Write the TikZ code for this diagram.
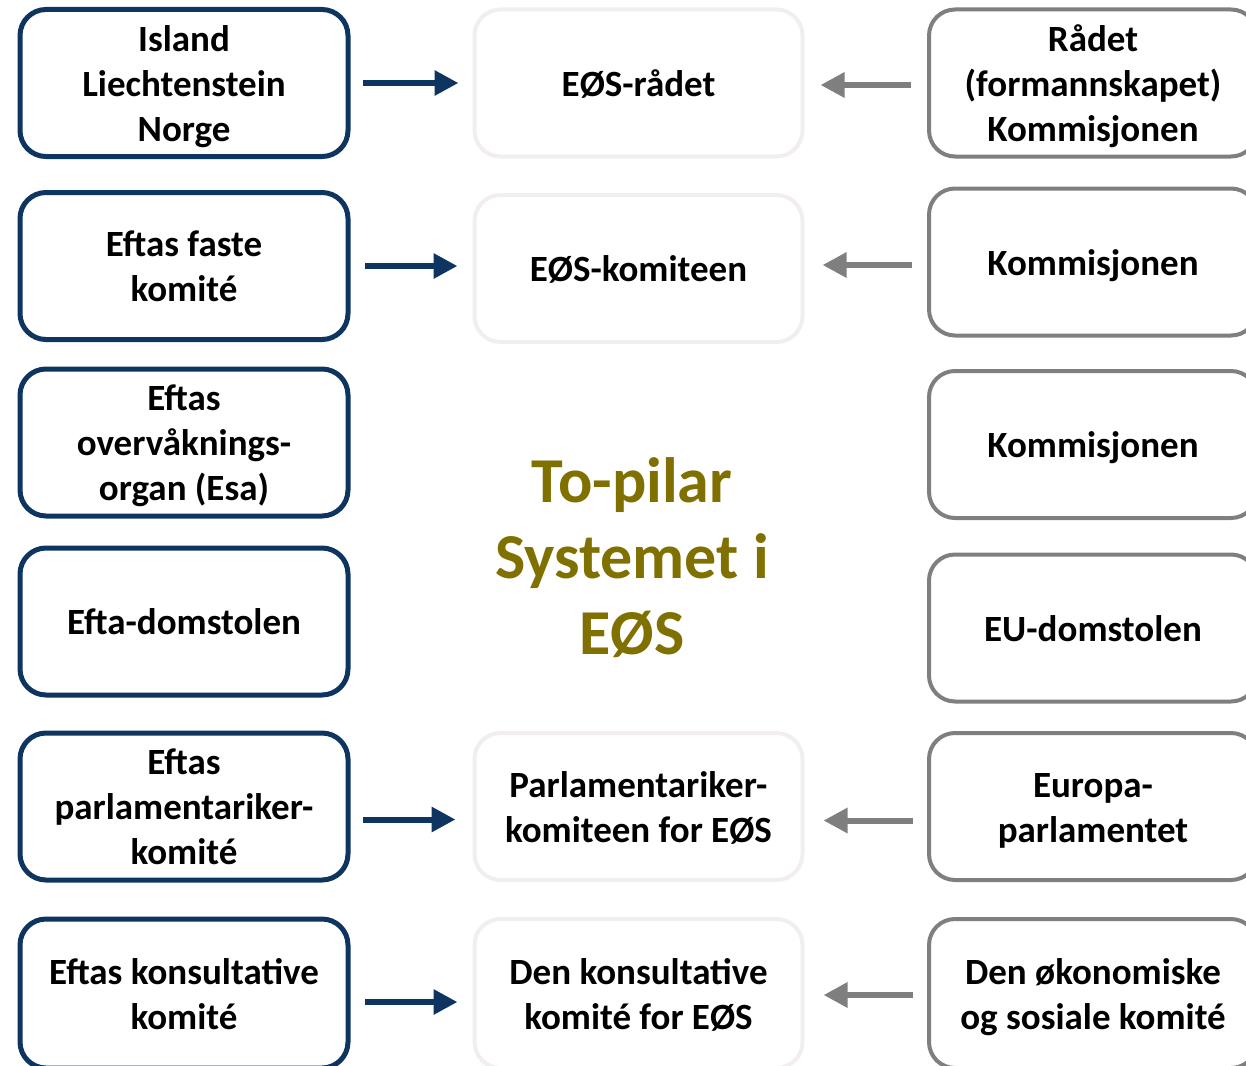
\documentclass[tikz,border=0pt]{standalone}
\usepackage{fontspec}
\setmainfont{Carlito}
\usetikzlibrary{arrows.meta,calc}
\definecolor{navyb}{RGB}{14,52,96}
\definecolor{greyb}{RGB}{127,127,127}
\definecolor{paleb}{RGB}{242,238,238}
\definecolor{olivet}{RGB}{127,112,0}
\newcommand\lnstrut{\rule[-8.5pt]{0pt}{43pt}}
\newcommand\bx[1]{\lnstrut#1\lnstrut}
\begin{document}
\begin{tikzpicture}[x=1pt,y=-1pt,
 box/.style={rectangle, rounded corners=26pt, minimum width=328pt, minimum height=147pt,
   align=center, font=\fontsize{37}{45}\selectfont\bfseries, fill=white, outer sep=0pt, text=black, inner sep=0pt},
 lastrow/.style={minimum height=149pt},
 leftbox/.style={box, draw=navyb, line width=5pt},
 midbox/.style={box, draw=paleb, line width=4pt},
 rightbox/.style={box, draw=greyb, line width=4pt},
 bluearrow/.style={draw=navyb, line width=6pt, -{Triangle[length=24pt,width=24pt]}},
 greyarrow/.style={draw=greyb, line width=6pt, -{Triangle[length=24pt,width=24pt]}},
]
\useasboundingbox (0,0) rectangle (1246,1065);
% left column
\node[leftbox] (L1) at (184,83) {\bx{Island\\Liechtenstein\\Norge}};
\node[leftbox] (L2) at (184,266) {\bx{Eftas faste\\komité}};
\node[leftbox] (L3) at (184,442.5) {\bx{Eftas\\overvåknings-\\organ (Esa)}};
\node[leftbox] (L4) at (184,621.5) {\bx{Efta-domstolen}};
\node[leftbox] (L5) at (184,806.5) {\bx{Eftas\\parlamentariker-\\komité}};
\node[leftbox, lastrow] (L6) at (184,993.5) {\bx{Eftas konsultative\\komité}};
% middle column
\node[midbox] (M1) at (638.5,83) {\bx{EØS-rådet}};
\node[midbox] (M2) at (638.5,268.5) {\bx{EØS-komiteen}};
\node[midbox] (M5) at (638.5,806.5) {\bx{Parlamentariker-\\komiteen for EØS}};
\node[midbox, lastrow] (M6) at (638.5,993.5) {\bx{Den konsultative\\komité for EØS}};
% right column
\node[rightbox] (R1) at (1093,83) {\bx{Rådet\\(formannskapet)\\Kommisjonen}};
\node[rightbox] (R2) at (1093,262) {\bx{Kommisjonen}};
\node[rightbox] (R3) at (1093,444.5) {\bx{Kommisjonen}};
\node[rightbox] (R4) at (1093,628) {\bx{EU-domstolen}};
\node[rightbox] (R5) at (1093,806.5) {\bx{Europa-\\parlamentet}};
\node[rightbox, lastrow] (R6) at (1093,993.5) {\bx{Den økonomiske\\og sosiale komité}};
% centre title
\node[align=center, text=olivet, font=\fontsize{64}{76}\selectfont\bfseries] (T) at (632,558) {To-pilar\\Systemet i\\EØS};
% blue arrows
\draw[bluearrow, shorten <=15pt, shorten >=16pt] (L1.east) -- (L1.east -| M1.west);
\draw[bluearrow, shorten <=17pt, shorten >=17pt] (L2.east) -- (L2.east -| M2.west);
\draw[bluearrow, shorten <=15pt, shorten >=19pt] ($(L5.east)+(0,13)$) -- ($(L5.east -| M5.west)+(0,13)$);
\draw[bluearrow, shorten <=17pt, shorten >=17pt] ($(L6.east)+(0,8.5)$) -- ($(L6.east -| M6.west)+(0,8.5)$);
% grey arrows
\draw[greyarrow, shorten <=18pt, shorten >=18pt] ($(R1.west)+(0,2)$) -- ($(R1.west -| M1.east)+(0,2)$);
\draw[greyarrow, shorten <=17pt, shorten >=20pt] ($(R2.west)+(0,3)$) -- ($(R2.west -| M2.east)+(0,3)$);
\draw[greyarrow, shorten <=16pt, shorten >=21pt] ($(R5.west)+(0,14)$) -- ($(R5.west -| M5.east)+(0,14)$);
\draw[greyarrow, shorten <=16pt, shorten >=21pt] ($(R6.west)+(0,1.5)$) -- ($(R6.west -| M6.east)+(0,1.5)$);
\end{tikzpicture}
\end{document}
